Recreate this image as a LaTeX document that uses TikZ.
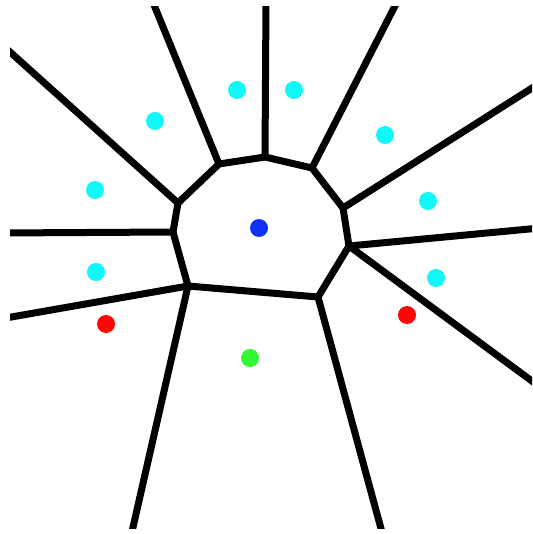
\documentclass[tikz,border=0pt]{standalone}
\usetikzlibrary{calc}
\definecolor{dcyan}{HTML}{10F8F8}
\definecolor{dblue}{HTML}{1030F8}
\definecolor{dred}{HTML}{FF0606}
\definecolor{dgreen}{HTML}{34F834}
\tikzset{
  edge/.style={line width=7pt, line join=round, line cap=round, black},
  site/.style={circle, inner sep=0pt, minimum size=18pt, fill=#1, draw=none},
}
\begin{document}
\begin{tikzpicture}[x=1pt,y=-1pt]
\useasboundingbox (0,0) rectangle (532,534);
% Voronoi vertices
\coordinate (I) at (178,203);
\coordinate (A) at (219,164);
\coordinate (B) at (265,157);
\coordinate (C) at (312,168);
\coordinate (D) at (343,208);
\coordinate (E) at (349,246);
\coordinate (F) at (318,297);
\coordinate (G) at (188,286);
\coordinate (H) at (173,232);
% boundary end points
\coordinate (rI) at (0,43);
\coordinate (rA) at (152,0);
\coordinate (rB) at (266,0);
\coordinate (rC) at (398,0);
\coordinate (rD) at (540,83);
\coordinate (rE1) at (540,228);
\coordinate (rE2) at (540,387);
\coordinate (rF) at (383,536);
\coordinate (rG1) at (131,536);
\coordinate (rG2) at (0,319);
\coordinate (rH) at (0,233);
\begin{scope}
\clip (10,7) rectangle (532,528);
\draw[edge] (I) -- (A) -- (B) -- (C) -- (D) -- (E) -- (F) -- (G) -- (H) -- cycle;
\draw[edge] (I) -- (rI);
\draw[edge] (A) -- (rA);
\draw[edge] (B) -- (rB);
\draw[edge] (C) -- (rC);
\draw[edge] (D) -- (rD);
\draw[edge] (E) -- (rE1);
\draw[edge] (E) -- (rE2);
\draw[edge] (F) -- (rF);
\draw[edge] (G) -- (rG1);
\draw[edge] (G) -- (rG2);
\draw[edge] (H) -- (rH);
\end{scope}
% sites
\node[site=dcyan] (s1) at (237,90) {};
\node[site=dcyan] (s2) at (294,90) {};
\node[site=dcyan] (s3) at (155,121) {};
\node[site=dcyan] (s4) at (385,135) {};
\node[site=dcyan] (s5) at (95,190) {};
\node[site=dcyan] (s6) at (428,201) {};
\node[site=dcyan] (s7) at (96,272) {};
\node[site=dcyan] (s8) at (436,278) {};
\node[site=dblue] (s9) at (259,228) {};
\node[site=dred] (s10) at (106,324) {};
\node[site=dred] (s11) at (407,315) {};
\node[site=dgreen] (s12) at (250,358) {};
\end{tikzpicture}
\end{document}
